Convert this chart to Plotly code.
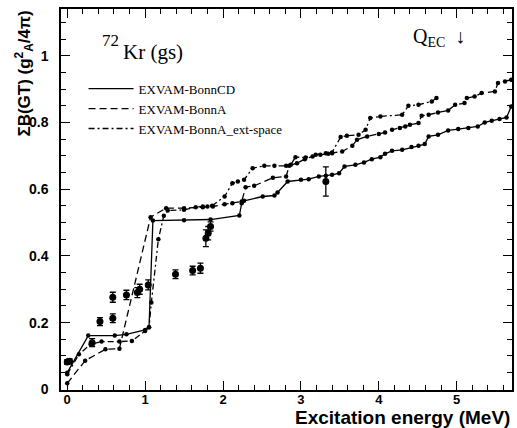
import plotly.graph_objects as go

# ---- data ----
cd_x = [0.0, 0.27, 0.61, 0.76, 1.0, 1.05, 1.10, 1.50, 1.84, 2.21, 2.24, 2.27, 2.51, 2.66, 2.70, 2.83,
        3.0, 3.10, 3.23, 3.32, 3.40, 3.49, 3.56, 3.70, 3.81, 3.91, 4.02, 4.08, 4.17, 4.30, 4.42,
        4.51, 4.59, 4.64, 4.76, 4.89, 5.02, 5.15, 5.27, 5.36, 5.45, 5.55, 5.64, 5.70]
cd_y = [0.05, 0.161, 0.161, 0.165, 0.178, 0.186, 0.506, 0.507, 0.509, 0.521, 0.558, 0.565, 0.578, 0.581, 0.59, 0.623,
        0.628, 0.63, 0.638, 0.640, 0.643, 0.648, 0.668, 0.673, 0.68, 0.69, 0.696, 0.706, 0.715, 0.718, 0.726,
        0.73, 0.735, 0.758, 0.763, 0.776, 0.78, 0.783, 0.788, 0.80, 0.805, 0.81, 0.815, 0.848]

a_x = [0.0, 0.23, 0.49, 0.67, 1.07, 1.27, 1.50, 1.74, 1.87, 2.02, 2.12, 2.24, 2.29, 2.40, 2.64, 2.81,
       2.85, 2.95, 3.05, 3.15, 3.25, 3.35, 3.40, 3.53, 3.66, 3.72, 3.85, 4.00, 4.08, 4.17, 4.27,
       4.34, 4.40, 4.51, 4.55, 4.64, 4.76, 4.89, 4.98, 5.10, 5.13, 5.23, 5.32, 5.49, 5.53, 5.62, 5.70]
a_y = [0.018, 0.086, 0.12, 0.122, 0.516, 0.543, 0.543, 0.546, 0.548, 0.555, 0.558, 0.563, 0.606, 0.61, 0.634, 0.638,
       0.67, 0.678, 0.690, 0.698, 0.703, 0.706, 0.708, 0.713, 0.73, 0.748, 0.758, 0.765, 0.77, 0.778, 0.783,
       0.788, 0.793, 0.798, 0.82, 0.823, 0.83, 0.836, 0.853, 0.858, 0.873, 0.878, 0.888, 0.893, 0.918, 0.923, 0.928]

ext_x = [0.0, 0.15, 0.30, 0.44, 0.67, 0.83, 1.0, 1.05, 1.08, 1.17, 1.24, 1.29, 1.50, 1.65, 1.74, 1.80,
         1.86, 2.02, 2.12, 2.19, 2.27, 2.38, 2.53, 2.66, 2.81, 2.87, 2.93, 3.06, 3.19, 3.32, 3.40,
         3.51, 3.59, 3.74, 3.83, 3.89, 4.02, 4.30, 4.38, 4.51, 4.68, 4.74]
ext_y = [0.045, 0.105, 0.135, 0.143, 0.143, 0.145, 0.175, 0.186, 0.26, 0.45, 0.52, 0.536, 0.538, 0.546, 0.548, 0.548,
         0.55, 0.578, 0.618, 0.623, 0.628, 0.663, 0.67, 0.67, 0.67, 0.673, 0.696, 0.695, 0.703, 0.708, 0.71,
         0.756, 0.76, 0.763, 0.778, 0.813, 0.818, 0.823, 0.85, 0.853, 0.863, 0.873]

exp_x = [0.0, 0.03, 0.32, 0.42, 0.585, 0.585, 0.76, 0.90, 0.93, 1.04, 1.39, 1.61, 1.71, 1.78, 1.81, 1.84, 3.32]
exp_y = [0.082, 0.084, 0.140, 0.203, 0.213, 0.276, 0.283, 0.290, 0.300, 0.313, 0.345, 0.356, 0.363, 0.453, 0.468, 0.488, 0.623]
exp_err = [0.007, 0.007, 0.012, 0.012, 0.013, 0.015, 0.014, 0.015, 0.015, 0.015, 0.013, 0.013, 0.015, 0.025, 0.02, 0.014, 0.044]

series_names = ["EXVAM-BonnCD", "EXVAM-BonnA", "EXVAM-BonnA_ext-space"]
x_ticks = [0, 1, 2, 3, 4, 5]
y_ticks = [0, 0.2, 0.4, 0.6, 0.8, 1.0]
y_tick_text = ["0", "0.2", "0.4", "0.6", "0.8", "1"]

dashes = ["solid", "7px,4px", "6px,3px,2px,3px"]

fig = go.Figure()
for xs, ys, nm, ds in zip([cd_x, a_x, ext_x], [cd_y, a_y, ext_y], series_names, dashes):
    fig.add_trace(go.Scatter(x=xs, y=ys, mode="lines+markers", showlegend=False,
                             line=dict(color="black", width=1.3, dash=ds),
                             marker=dict(size=4.5, color="black")))
    fig.add_trace(go.Scatter(x=[None], y=[None], mode="lines", name=nm,
                             line=dict(color="black", width=1.3, dash=ds)))

fig.add_trace(go.Scatter(x=exp_x, y=exp_y, mode="markers", showlegend=False,
                         marker=dict(size=7, color="black"),
                         error_y=dict(type="data", array=exp_err, color="black", thickness=1.3, width=3)))

axis_common = dict(showline=True, linecolor="black", linewidth=1.5, mirror="allticks",
                   ticks="inside", ticklen=9, tickwidth=1.2, tickcolor="black",
                   showgrid=False, zeroline=False)

fig.update_xaxes(range=[-0.08, 5.71], tickvals=x_ticks, **axis_common,
                 ticklabelstandoff=-3,
                 tickfont=dict(family="Liberation Sans", size=13, color="black", weight="bold"),
                 minor=dict(dtick=0.2, tick0=0, ticks="inside", ticklen=5, tickwidth=1, tickcolor="black"))
fig.update_yaxes(range=[-0.002, 1.14], tickvals=y_ticks, ticktext=y_tick_text, **axis_common,
                 ticklabelstandoff=8,
                 tickfont=dict(family="Liberation Sans", size=14, color="black", weight="bold"),
                 minor=dict(dtick=0.05, tick0=0, ticks="inside", ticklen=5, tickwidth=1, tickcolor="black"))

fig.add_annotation(text="<b>Excitation energy (MeV)</b>", xref="paper", yref="paper",
                   x=1.0, y=-0.073, xanchor="right", yanchor="middle", showarrow=False,
                   font=dict(family="Liberation Sans", size=19, color="black"))
fig.add_annotation(text="<b>ΣB(GT) (g<sup>2</sup><sub>A</sub>/4π)</b>", xref="paper", yref="paper",
                   x=-0.083, y=1.0, xanchor="center", yanchor="top", textangle=-90, showarrow=False,
                   font=dict(family="Liberation Sans", size=17, color="black"))
fig.add_annotation(text="72", xref="paper", yref="paper", x=0.086, y=0.918,
                   xanchor="left", yanchor="middle", showarrow=False,
                   font=dict(family="Liberation Serif", size=17, color="black"))
fig.add_annotation(text="Kr (gs)", xref="paper", yref="paper", x=0.134, y=0.888,
                   xanchor="left", yanchor="middle", showarrow=False,
                   font=dict(family="Liberation Serif", size=21, color="black"))
fig.add_annotation(text="Q<sub>EC</sub>  ↓", xref="paper", yref="paper", x=0.776, y=0.925,
                   xanchor="left", yanchor="middle", showarrow=False,
                   font=dict(family="Liberation Serif", size=20, color="black"))

fig.update_layout(width=517, height=428, margin=dict(l=61, r=3, t=9, b=38),
                  plot_bgcolor="white", paper_bgcolor="white",
                  legend=dict(x=0.05, y=0.83, xanchor="left", yanchor="top", bgcolor="rgba(0,0,0,0)",
                              itemwidth=45, font=dict(family="Liberation Serif", size=13, color="black")))

fig.write_html("out.html", config={"displayModeBar": False},
               post_script="document.body.style.margin='0';document.body.style.padding='0';"
                           "document.documentElement.style.overflow='hidden';")
